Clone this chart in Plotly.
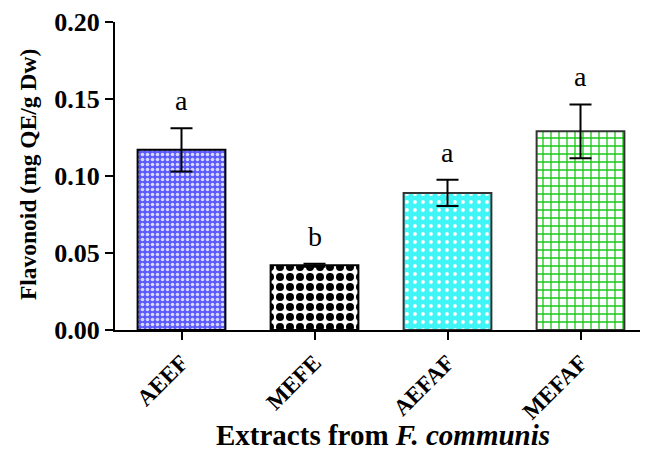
import plotly.graph_objects as go

categories = ["AEEF", "MEFE", "AEFAF", "MEFAF"]
values = [0.117, 0.042, 0.089, 0.129]
errors = [0.014, 0.001, 0.0085, 0.0175]
letters = ["a", "b", "a", "a"]
yticks = [0.00, 0.05, 0.10, 0.15, 0.20]

fills = ["#5a5aff", "white", "#3ff5f5", "white"]
fgs = ["#d8d8ff", "black", "white", "#19c819"]
shapes = [".", ".", ".", "+"]
sizes = [5, 10, 8, 8]
solid = [0.4, 0.5, 0.18, 0.3]
lines = ["black", "black", "#333333", "#333333"]

FONT = "Liberation Serif"

fig = go.Figure()
fig.add_trace(go.Bar(
    x=categories, y=values, width=0.66,
    error_y=dict(type="data", array=errors, visible=True, color="black", thickness=2, width=11),
    marker=dict(
        color="white",
        line=dict(color=lines, width=2),
        pattern=dict(shape=shapes, fgcolor=fgs, bgcolor=fills, size=sizes, solidity=solid, fillmode="replace"),
    ),
    showlegend=False,
))

for c, v, e, t in zip(categories, values, errors, letters):
    fig.add_annotation(x=c, y=v + e, text=t, showarrow=False, yanchor="bottom", yshift=10,
                       font=dict(family=FONT, size=28, color="black"))

fig.add_annotation(xref="paper", yref="paper", x=0.504, y=-0.40, text="<b>Extracts from <i>F. communis</i></b>",
                   showarrow=False, xanchor="center", yanchor="bottom",
                   font=dict(family=FONT, size=29, color="black"))
fig.add_annotation(xref="paper", yref="paper", x=-0.1635, y=0.503, text="<b>Flavonoid (mg QE/g Dw)</b>",
                   showarrow=False, xanchor="center", yanchor="middle", textangle=-90,
                   font=dict(family=FONT, size=23.5, color="black"))

fig.update_layout(
    width=640, height=448,
    margin=dict(l=107, r=1, t=14, b=126),
    plot_bgcolor="white", paper_bgcolor="white",
    font=dict(family=FONT, color="black"),
    xaxis=dict(
        range=[-0.5, 3.5], showline=True, linecolor="black", linewidth=2,
        ticks="outside", ticklen=8, tickwidth=2, tickcolor="black",
        tickangle=-45, tickfont=dict(family=FONT, size=23, color="black", weight="bold"),
        showgrid=False, automargin=False,
    ),
    yaxis=dict(
        range=[0, 0.2], tickvals=yticks, ticktext=[f"{v:.2f}" for v in yticks],
        showline=True, linecolor="black", linewidth=2,
        ticks="outside", ticklen=8, tickwidth=2, tickcolor="black",
        tickfont=dict(family=FONT, size=26, color="black", weight="bold"),
        showgrid=False, zeroline=False, automargin=False,
    ),
)

fig.write_html("out.html")
